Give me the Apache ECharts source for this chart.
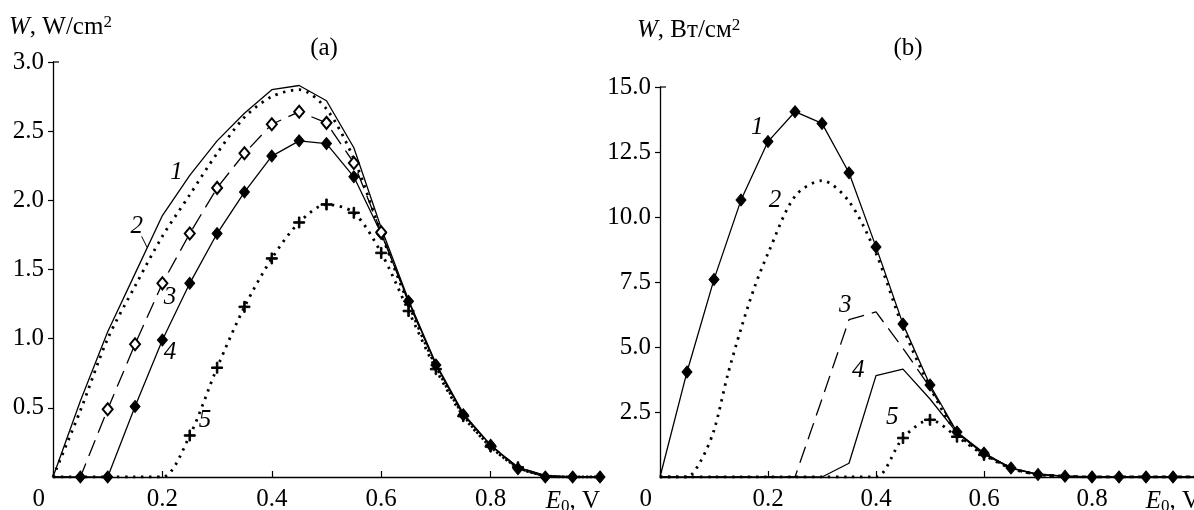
<!DOCTYPE html>
<html>
<head>
<meta charset="utf-8">
<script src="https://cdn.jsdelivr.net/npm/echarts@6/dist/echarts.min.js"></script>
<style>
html,body{margin:0;padding:0;background:#fff;}
#chart{width:1194px;height:510px;}
</style>
</head>
<body>
<div id="chart"></div>
<script>
// ---- data ----
const xSteps = [0,0.05,0.1,0.15,0.2,0.25,0.3,0.35,0.4,0.45,0.5,0.55,0.6,0.65,0.7,0.75,0.8,0.85,0.9,0.95,1.0];
// panel (a)
const a1 = [0,0.55,1.05,1.47,1.89,2.18,2.43,2.63,2.80,2.83,2.72,2.38,1.80,1.28,0.82,0.46,0.23,0.07,0.01,0,0];
const a2 = [0,0.48,1.00,1.38,1.74,2.04,2.34,2.60,2.75,2.80,2.66,2.30,1.76,1.25,0.80,0.45,0.22,0.07,0.01,0,0];
const a3 = [0,0,0.49,0.96,1.40,1.76,2.09,2.34,2.55,2.64,2.56,2.27,1.77,1.26,0.81,0.45,0.23,0.07,0.01,0,0];
const a4 = [0,0,0,0.51,0.99,1.40,1.76,2.06,2.32,2.43,2.41,2.17,1.76,1.27,0.81,0.45,0.23,0.06,0,0,0];
const a5 = [0,0,0,0,0,0.30,0.79,1.23,1.58,1.84,1.97,1.91,1.62,1.20,0.78,0.44,0.22,0.07,0.01,0,0];
// panel (b)
const b1 = [0,4.04,7.6,10.65,12.9,14.05,13.6,11.7,8.85,5.88,3.54,1.73,0.92,0.35,0.1,0.03,0,0,0,0,0];
const b2x = [0,0.05,0.075,0.1,0.125,0.15,0.175,0.2,0.25,0.3,0.35,0.4,0.45,0.5,0.55,0.6,0.65,0.7,0.75,0.8,0.9,1.0];
const b2 = [0,0,0.6,1.8,3.9,5.7,7.3,8.6,10.8,11.4,10.6,8.6,5.75,3.45,1.7,0.9,0.35,0.1,0.03,0,0,0];
const b3 = [0,0,0,0,0,0,3.0,6.05,6.35,4.95,3.45,1.7,0.9,0.35,0.1,0.03,0,0,0,0,0];
const b4 = [0,0,0,0,0,0,0,0.53,3.9,4.15,3.0,1.7,0.88,0.33,0.1,0.03,0,0,0,0,0];
const b5 = [0,0,0,0,0,0,0,0,0,1.5,2.2,1.55,0.85,0.33,0.1,0.03,0,0,0,0,0];
// axis ticks
const yTicksA = {min:0, max:3, interval:0.5};
const yTicksB = {min:0, max:15, interval:2.5};
const xTicks = {min:0, max:1, interval:0.2};
// curve number labels [x, W, text]
const labelsA = [[0.226,2.2,'1'],[0.153,1.81,'2'],[0.214,1.30,'3'],[0.214,0.90,'4'],[0.278,0.41,'5']];
const labelsB = [[0.18,13.46,'1'],[0.213,10.65,'2'],[0.343,6.6,'3'],[0.367,4.1,'4'],[0.43,2.3,'5']];

// ---- styling ----
const FONT = 'Liberation Serif';
const FS = 25;
const BLACK = '#000';
const plusPath = 'path://M4.3,0H5.7V4.3H10V5.7H5.7V10H4.3V5.7H0V4.3H4.3Z';

function pairs(xs, ys, symFrom, symTo){
  return ys.map((y,i)=>{
    const show = symFrom!=null && xs[i] >= symFrom-1e-9 && xs[i] <= symTo+1e-9;
    return show ? [xs[i], y] : {value:[xs[i], y], symbol:'none'};
  });
}

function xAxisCfg(gi){
  return {
    type:'value', gridIndex:gi, min:xTicks.min, max:xTicks.max, interval:xTicks.interval,
    axisLine:{show:true, onZero:false, lineStyle:{color:BLACK, width:1.3}},
    axisTick:{show:true, inside:true, length:6, lineStyle:{color:BLACK, width:1.2}},
    splitLine:{show:false},
    axisLabel:{
      color:BLACK, fontFamily:FONT, fontSize:FS, margin:10,
      showMinLabel:true, showMaxLabel:true,
      alignMinLabel:'right', alignMaxLabel:'right',
      formatter:function(v){
        if (Math.abs(v) < 1e-9) return '{z|0}';
        if (Math.abs(v-1) < 1e-9) return '{e|E}{s|0}{n|, V}';
        return v.toFixed(1);
      },
      rich:{
        z:{fontFamily:FONT, fontSize:FS, color:BLACK, padding:[0,8,0,0]},
        e:{fontFamily:FONT, fontSize:FS, fontStyle:'italic', color:BLACK, lineHeight:28},
        s:{fontFamily:FONT, fontSize:17, color:BLACK, lineHeight:28, verticalAlign:'bottom', padding:[11,0,0,0]},
        n:{fontFamily:FONT, fontSize:FS, color:BLACK, lineHeight:28}
      }
    }
  };
}
function yAxisCfg(gi, t){
  return {
    type:'value', gridIndex:gi, min:t.min, max:t.max, interval:t.interval,
    axisLine:{show:true, onZero:false, lineStyle:{color:BLACK, width:1.3}},
    axisTick:{show:true, inside:false, length:5, lineStyle:{color:BLACK, width:1.2}},
    splitLine:{show:false},
    axisLabel:{color:BLACK, fontFamily:FONT, fontSize:FS, margin:9, showMinLabel:false,
      formatter:function(v){return v.toFixed(1);}}
  };
}

const solid = {color:BLACK, width:1.3, type:'solid'};
const dotted = {color:BLACK, width:2.8, type:[2.4,5.6]};
const dashed = {color:BLACK, width:1.3, type:[17,8]};

function ser(gi, data, line, symbol, size, extra){
  return Object.assign({
    type:'line', xAxisIndex:gi, yAxisIndex:gi, data:data,
    lineStyle:line, symbol:symbol||'none', symbolSize:size||10, showSymbol:true,
    itemStyle:{color:BLACK, borderColor:BLACK},
    silent:true, animation:false, z:3
  }, extra||{});
}

const series = [
  // (a)
  ser(0, pairs(xSteps,a1), solid),
  ser(0, pairs(xSteps,a2), dotted, 'none', 10, {smooth:0.3}),
  ser(0, pairs(xSteps,a3,0.1,0.6), dashed, 'emptyDiamond', [10,12], {itemStyle:{color:BLACK, borderWidth:1.3}, z:4}),
  ser(0, pairs(xSteps,a4,0.05,1.0), solid, 'diamond', [10,12]),
  ser(0, pairs(xSteps,a5,0.25,0.85), dotted, plusPath, 11, {smooth:0.3}),
  // (b)
  ser(1, pairs(xSteps,b1,0.05,1.0), solid, 'diamond', [10,12]),
  ser(1, pairs(b2x,b2), dotted, 'none', 10, {smooth:0.3}),
  ser(1, pairs(xSteps,b3), dashed),
  ser(1, pairs(xSteps,b4), solid),
  ser(1, pairs(xSteps,b5,0.45,0.6), dotted, plusPath, 11, {smooth:0.3})
];

const chart = echarts.init(document.getElementById('chart'), null, {renderer:'canvas'});
chart.setOption({
  backgroundColor:'#fff',
  animation:false,
  grid:[
    {left:53, top:62, width:547, height:415, containLabel:false, outerBoundsMode:'none'},
    {left:660, top:87, width:540, height:390, containLabel:false, outerBoundsMode:'none'}
  ],
  xAxis:[xAxisCfg(0), xAxisCfg(1)],
  yAxis:[yAxisCfg(0,yTicksA), yAxisCfg(1,yTicksB)],
  series:series
});

// annotations
const g = [];
function txt(x, y, text, opts){
  g.push(Object.assign({type:'text', x:x, y:y, silent:true, z:10,
    style:Object.assign({text:text, fill:BLACK, font: FS+'px "'+FONT+'"', textVerticalAlign:'middle'}, (opts&&opts.style)||{})}, (opts&&opts.el)||{}));
}
function curveLabels(gi, arr){
  arr.forEach(l=>{
    const p = chart.convertToPixel({gridIndex:gi}, [l[0], l[1]]);
    txt(p[0], p[1], l[2], {style:{font:'italic '+FS+'px "'+FONT+'"', textAlign:'center'}});
  });
}
curveLabels(0, labelsA);
curveLabels(1, labelsB);

// titles
txt(324, 48, '(a)', {style:{textAlign:'center'}});
txt(908, 48, '(b)', {style:{textAlign:'center'}});

// axis names with superscripts
function axisName(x, y, unit){
  g.push({type:'text', x:x, y:y, silent:true, z:10, style:{
    text:'{i|W}{n|, '+unit+'}{s|2}', fill:BLACK,
    rich:{
      i:{fontFamily:FONT, fontSize:FS, fontStyle:'italic', fill:BLACK, lineHeight:26, verticalAlign:'bottom'},
      n:{fontFamily:FONT, fontSize:FS, fill:BLACK, lineHeight:26, verticalAlign:'bottom'},
      s:{fontFamily:FONT, fontSize:17, fill:BLACK, lineHeight:26, verticalAlign:'top'}
    }
  }});
}
axisName(9, 14, 'W/cm');
axisName(637, 17, 'Вт/см');

// top bracket of y axes
[[0,yTicksA.max],[1,yTicksB.max]].forEach(([gi,ym])=>{
  const p = chart.convertToPixel({gridIndex:gi}, [0, ym]);
  g.push({type:'line', silent:true, z:10, shape:{x1:p[0], y1:p[1], x2:p[0]+6, y2:p[1]}, style:{stroke:BLACK, lineWidth:1.2}});
});
// leader line for label 2 in (a)
const lp1 = chart.convertToPixel({gridIndex:0}, [0.162, 1.74]);
const lp2 = chart.convertToPixel({gridIndex:0}, [0.172, 1.66]);
g.push({type:'line', silent:true, z:10, shape:{x1:lp1[0], y1:lp1[1], x2:lp2[0], y2:lp2[1]}, style:{stroke:BLACK, lineWidth:1}});

chart.setOption({graphic:g});
</script>
</body>
</html>
